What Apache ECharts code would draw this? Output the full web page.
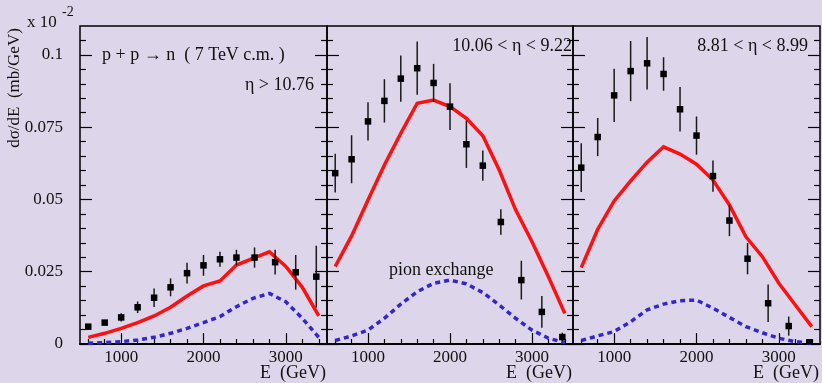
<!DOCTYPE html>
<html>
<head>
<meta charset="utf-8">
<script src="https://cdn.jsdelivr.net/npm/echarts@6/dist/echarts.min.js"></script>
<style>
  html, body { margin: 0; padding: 0; background: #ddd5e9; }
  #chart { width: 822px; height: 383px; }
</style>
</head>
<body>
<div id="chart"></div>
<script>
// Measured neutron energy bins (GeV)
const binEnergy = [600, 800, 1000, 1200, 1400, 1600, 1800, 2000, 2200, 2400, 2620, 2870, 3120, 3370];
// Energies at which the model curves are evaluated (GeV)
const modelEnergy = [600, 800, 1000, 1200, 1400, 1600, 1800, 2000, 2200, 2400, 2600, 2800, 3000, 3200, 3400];

// Pseudorapidity windows, one per panel
const etaLabels = ['η > 10.76', '10.06 < η < 9.22', '8.81 < η < 8.99'];

// dσ/dE in units of 10^-2 mb/GeV
const measured1 = [0.0060, 0.0074, 0.0092, 0.0127, 0.0160, 0.0196, 0.0245, 0.0272, 0.0293, 0.0299, 0.0299, 0.0283, 0.0248, 0.0233];
const error1    = [0.0006, 0.0008, 0.0014, 0.0020, 0.0032, 0.0031, 0.0036, 0.0036, 0.0026, 0.0027, 0.0035, 0.0043, 0.0060, 0.0107];
const total1    = [0.0023, 0.0037, 0.0054, 0.0074, 0.0097, 0.0127, 0.0166, 0.0201, 0.0218, 0.0273, 0.0296, 0.0319, 0.0268, 0.0196, 0.0097];
const pion1     = [0.0003, 0.0005, 0.0008, 0.0014, 0.0023, 0.0037, 0.0054, 0.0074, 0.0095, 0.0129, 0.0158, 0.0175, 0.0146, 0.0089, 0.0023];

const measured2 = [0.0591, 0.0639, 0.0770, 0.0841, 0.0918, 0.0954, 0.0903, 0.0821, 0.0691, 0.0617, 0.0422, 0.0221, 0.0111, 0.0024];
const error2    = [0.0067, 0.0083, 0.0066, 0.0075, 0.0080, 0.0092, 0.0066, 0.0081, 0.0082, 0.0052, 0.0044, 0.0067, 0.0055, 0.0015];
const total2    = [0.0268, 0.0374, 0.0498, 0.0619, 0.0729, 0.0833, 0.0844, 0.0821, 0.0781, 0.0720, 0.0602, 0.0464, 0.0354, 0.0233, 0.0106];
const pion2     = [0.0012, 0.0028, 0.0048, 0.0089, 0.0138, 0.0181, 0.0210, 0.0221, 0.0208, 0.0178, 0.0135, 0.0089, 0.0048, 0.0020, 0.0005];

const measured3 = [0.0610, 0.0716, 0.0860, 0.0944, 0.0971, 0.0934, 0.0812, 0.0721, 0.0581, 0.0427, 0.0295, 0.0141, 0.0062, 0.0006];
const error3    = [0.0084, 0.0066, 0.0092, 0.0104, 0.0091, 0.0058, 0.0077, 0.0066, 0.0054, 0.0054, 0.0054, 0.0065, 0.0033, 0.0010];
const total3    = [0.0264, 0.0397, 0.0495, 0.0564, 0.0629, 0.0682, 0.0657, 0.0622, 0.0567, 0.0481, 0.0371, 0.0302, 0.0210, 0.0135, 0.0060];
const pion3     = [0.0012, 0.0028, 0.0043, 0.0077, 0.0118, 0.0138, 0.0150, 0.0152, 0.0124, 0.0092, 0.0060, 0.0039, 0.0020, 0.0008, 0.0003];

// Axis ticks
const xMajor = [1000, 2000, 3000];
const xMinor = [600, 800, 1200, 1400, 1600, 1800, 2200, 2400, 2600, 2800, 3200, 3400];
const yMajor = [0, 0.025, 0.05, 0.075, 0.1];
const yMinor = [0.005, 0.01, 0.015, 0.02, 0.03, 0.035, 0.04, 0.045, 0.055, 0.06, 0.065, 0.07, 0.08, 0.085, 0.09, 0.095, 0.105];

const panels = [
  { measured: measured1, error: error1, total: total1, pion: pion1 },
  { measured: measured2, error: error2, total: total2, pion: pion2 },
  { measured: measured3, error: error3, total: total3, pion: pion3 }
];

const FONT = "'Liberation Serif', 'DejaVu Serif', serif";
const INK = '#111';
const gridBoxes = [
  { left: 80, width: 247 },
  { left: 327, width: 246 },
  { left: 573, width: 247 }
];
const TOP = 26, HEIGHT = 318;

const grids = [], xAxes = [], yAxes = [], series = [], graphics = [];

gridBoxes.forEach((box, i) => {
  grids.push({
    left: box.left, top: TOP, width: box.width, height: HEIGHT,
    show: true, borderColor: '#000', borderWidth: 1.5, backgroundColor: 'transparent'
  });

  const xBase = { gridIndex: i, type: 'value', min: 500, max: 3500, position: 'bottom', splitLine: { show: false } };
  const xMain = xAxes.length;
  xAxes.push(Object.assign({}, xBase, {
    axisLine: { show: true, lineStyle: { color: '#000', width: 2 } },
    axisTick: { show: true, inside: true, length: 11, customValues: xMajor, lineStyle: { color: '#000', width: 1.2 } },
    axisLabel: { show: true, customValues: xMajor, margin: 5, fontFamily: FONT, fontSize: 17, color: INK,
                 formatter: v => String(v) }
  }));
  xAxes.push(Object.assign({}, xBase, {
    axisLine: { show: false },
    axisTick: { show: true, inside: true, length: 5, customValues: xMinor, lineStyle: { color: '#000', width: 1.2 } },
    axisLabel: { show: false }
  }));

  const yBase = { gridIndex: i, type: 'value', min: 0, max: 0.11, splitLine: { show: false }, axisLine: { show: false } };
  const yMain = yAxes.length;
  ['left', 'right'].forEach(pos => {
    yAxes.push(Object.assign({}, yBase, {
      position: pos,
      axisTick: { show: true, inside: true, length: 12, customValues: yMajor, lineStyle: { color: '#000', width: 1.2 } },
      axisLabel: {
        show: i === 0 && pos === 'left', customValues: yMajor, margin: 17,
        fontFamily: FONT, fontSize: 17, color: INK,
        formatter: v => String(v)
      }
    }));
    yAxes.push(Object.assign({}, yBase, {
      position: pos,
      axisTick: { show: true, inside: true, length: 6, customValues: yMinor, lineStyle: { color: '#000', width: 1.2 } },
      axisLabel: { show: false }
    }));
  });

  const p = panels[i];
  // full model
  series.push({
    type: 'line', xAxisIndex: xMain, yAxisIndex: yMain,
    data: modelEnergy.map((e, k) => [e, p.total[k]]),
    showSymbol: false, symbol: 'none', clip: true,
    lineStyle: { color: '#ff1010', width: 3.5, cap: 'butt', join: 'miter' },
    z: 3
  });
  // pion exchange contribution
  series.push({
    type: 'line', xAxisIndex: xMain, yAxisIndex: yMain,
    data: modelEnergy.map((e, k) => [e, p.pion[k]]),
    showSymbol: false, symbol: 'none', clip: true,
    lineStyle: { color: '#3526cc', width: 3.5, type: [5, 4], cap: 'butt' },
    z: 3
  });
  // measured points with error bars
  series.push({
    type: 'custom', xAxisIndex: xMain, yAxisIndex: yMain,
    data: binEnergy.map((e, k) => [e, p.measured[k], p.error[k]]),
    encode: { x: 0, y: 1 },
    clip: true,
    z: 4,
    renderItem: (params, api) => {
      const x = api.value(0), y = api.value(1), err = api.value(2);
      const lo = api.coord([x, y - err]);
      const hi = api.coord([x, y + err]);
      const c = api.coord([x, y]);
      return {
        type: 'group',
        children: [
          { type: 'line', shape: { x1: lo[0], y1: lo[1], x2: hi[0], y2: hi[1] },
            style: { stroke: '#1a1a1a', lineWidth: 1.5 } },
          { type: 'rect', shape: { x: c[0] - 3.25, y: c[1] - 3.25, width: 6.5, height: 6.5 },
            style: { fill: '#000' } }
        ]
      };
    }
  });

  // axis title under each panel
  graphics.push({
    type: 'text', x: box.left + box.width - 1, y: 373,
    style: { text: 'E  (GeV)', font: `18px ${FONT}`, fill: INK, textAlign: 'right', textVerticalAlign: 'middle' }
  });
});

// Panel annotations
graphics.push(
  { type: 'text', x: 102, y: 55,
    style: { text: 'p + p → n  ( 7 TeV c.m. )', font: `18px ${FONT}`, fill: INK, textAlign: 'left', textVerticalAlign: 'middle' } },
  { type: 'text', x: 314, y: 85,
    style: { text: etaLabels[0], font: `18px ${FONT}`, fill: INK, textAlign: 'right', textVerticalAlign: 'middle' } },
  { type: 'text', x: 572, y: 46,
    style: { text: etaLabels[1], font: `18px ${FONT}`, fill: INK, textAlign: 'right', textVerticalAlign: 'middle' } },
  { type: 'text', x: 808, y: 46,
    style: { text: etaLabels[2], font: `18px ${FONT}`, fill: INK, textAlign: 'right', textVerticalAlign: 'middle' } },
  { type: 'text', x: 389, y: 270,
    style: { text: 'pion exchange', font: `18px ${FONT}`, fill: INK, textAlign: 'left', textVerticalAlign: 'middle' } },
  // y-axis title and scale factor
  { type: 'text', x: 15, y: 88, rotation: Math.PI / 2,
    style: { text: 'dσ/dE  (mb/GeV)', font: `17px ${FONT}`, fill: INK, textAlign: 'center', textVerticalAlign: 'middle' } },
  { type: 'text', x: 27, y: 23,
    style: { text: 'x 10', font: `17px ${FONT}`, fill: INK, textAlign: 'left', textVerticalAlign: 'middle' } },
  { type: 'text', x: 62, y: 12,
    style: { text: '-2', font: `14px ${FONT}`, fill: INK, textAlign: 'left', textVerticalAlign: 'middle' } }
);

const chart = echarts.init(document.getElementById('chart'), null, { renderer: 'canvas' });
chart.setOption({
  backgroundColor: '#ddd5e9',
  animation: false,
  grid: grids,
  xAxis: xAxes,
  yAxis: yAxes,
  series: series,
  graphic: graphics
});
</script>
</body>
</html>
